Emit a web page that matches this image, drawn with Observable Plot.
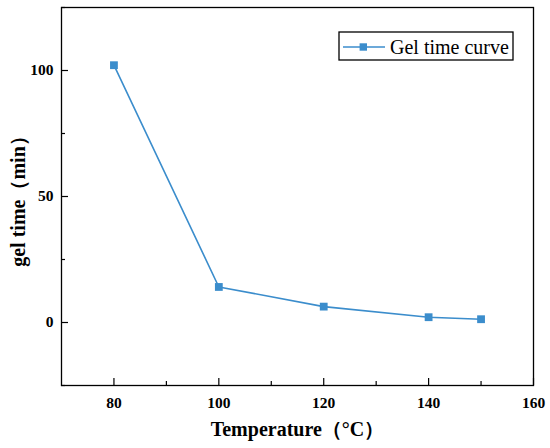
<!DOCTYPE html>
<html><head><meta charset="utf-8">
<script src="https://cdn.jsdelivr.net/npm/d3@7"></script>
<script src="https://cdn.jsdelivr.net/npm/@observablehq/plot@0.6"></script>
<style>body{margin:0;background:#fff}</style>
</head><body><div id="chart"></div>
<script>
const temperature = [80, 100, 120, 140, 150];
const gelTime = [102.1, 14.1, 6.3, 2.1, 1.3];
const xMajorTicks = [80, 100, 120, 140, 160];
const xMinorTicks = [90, 110, 130, 150];
const yMajorTicks = [0, 50, 100];
const yMinorTicks = [-25, 25, 75, 125];
const seriesName = "Gel time curve";
const xTitle = "Temperature（°C）";
const yTitle = "gel time（min）";

const data = temperature.map((t, i) => ({t, v: gelTime[i]}));
const color = "#3b8dcc";
const font = "'Liberation Serif', 'Times New Roman', serif";

const chart = Plot.plot({
  width: 550, height: 448,
  marginLeft: 61, marginRight: 17, marginTop: 7, marginBottom: 63,
  style: {fontFamily: font, fontSize: "15.5px", fontWeight: "bold", background: "#fff", color: "#000", overflow: "visible"},
  x: {domain: [70, 160]},
  y: {domain: [-25, 125]},
  marks: [
    Plot.axisX(xMajorTicks, {tickSize: -7, fill: "none", label: null, strokeWidth: 1.2}),
    Plot.axisX(xMinorTicks, {tickSize: -4, fill: "none", label: null, strokeWidth: 1.2}),
    Plot.axisX(xMajorTicks, {tickSize: 0, tickPadding: 11, label: null, fontSize: 15.5}),
    Plot.axisY(yMajorTicks, {tickSize: -7, fill: "none", label: null, strokeWidth: 1.2}),
    Plot.axisY(yMinorTicks, {tickSize: -4, fill: "none", label: null, strokeWidth: 1.2}),
    Plot.axisY(yMajorTicks, {tickSize: 0, tickPadding: 8, label: null, fontSize: 15.5}),
    Plot.frame({stroke: "#000", strokeWidth: 1.3}),
    Plot.line(data, {x: "t", y: "v", stroke: color, strokeWidth: 1.6}),
    Plot.dot(data, {x: "t", y: "v", symbol: "square", r: 4.4, fill: color, stroke: null}),
    Plot.text([xTitle], {text: d => d, frameAnchor: "bottom", dy: 50, fontSize: 20, fontWeight: "bold"}),
    Plot.text([yTitle], {text: d => d, frameAnchor: "left", dx: -43, rotate: -90, textAnchor: "middle", lineAnchor: "middle", fontSize: 20, fontWeight: "bold"})
  ]
});
document.getElementById("chart").appendChild(chart);

const svg = d3.select(chart);

// legend inside the plot frame (top-right)
const lg = svg.append("g").attr("transform", "translate(339,32)");
lg.append("rect").attr("x", 0).attr("y", 0).attr("width", 174).attr("height", 28)
  .attr("fill", "#fff").attr("stroke", "#000").attr("stroke-width", 1.3);
lg.append("line").attr("x1", 4).attr("x2", 46).attr("y1", 15).attr("y2", 15)
  .attr("stroke", color).attr("stroke-width", 1.6);
lg.append("rect").attr("x", 20.6).attr("y", 11.3).attr("width", 7.4).attr("height", 7.4)
  .attr("fill", color).attr("stroke", "none");
lg.append("text").attr("x", 51).attr("y", 22.3)
  .style("font-size", "20px").style("font-weight", "normal").style("text-anchor", "start")
  .attr("font-family", font).attr("fill", "#000").text(seriesName);
</script>
</body></html>
